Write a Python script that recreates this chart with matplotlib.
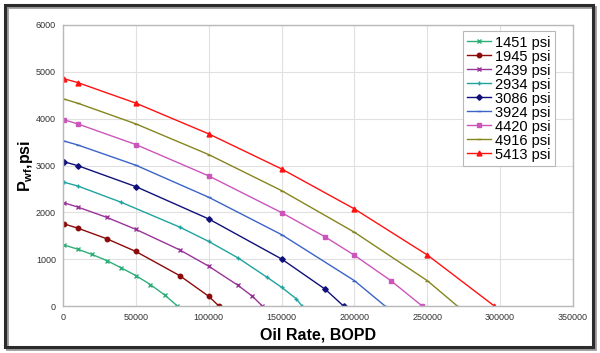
import numpy as np
import matplotlib.pyplot as plt
from matplotlib.patches import Rectangle

plt.rcParams['font.family'] = ['Liberation Sans', 'DejaVu Sans']

# IPR curves, one per reservoir pressure
labels = ["1451 psi", "1945 psi", "2439 psi", "2934 psi", "3086 psi",
          "3924 psi", "4420 psi", "4916 psi", "5413 psi"]

q_1451 = [1000, 10000, 20000, 30000, 40000, 50000, 60000, 70000, 78500]
p_1451 = [1300, 1214, 1100, 971, 814, 650, 457, 229, 0]

q_1945 = [1000, 10000, 30000, 50000, 80000, 100000, 107000]
p_1945 = [1750, 1664, 1436, 1164, 650, 207, 0]

q_2439 = [1000, 10000, 30000, 50000, 80000, 100000, 120000, 130000, 136800]
p_2439 = [2200, 2114, 1893, 1636, 1200, 850, 443, 207, 0]

q_2934 = [1000, 10000, 40000, 80000, 100000, 120000, 140000, 150000, 160000, 164000]
p_2934 = [2640, 2564, 2214, 1686, 1379, 1029, 614, 400, 157, 0]

q_3086 = [1000, 10000, 50000, 100000, 150000, 180000, 192500]
p_3086 = [3077, 2998, 2549, 1859, 1004, 357, 0]

q_3924 = [1000, 10000, 50000, 100000, 150000, 200000, 221000]
p_3924 = [3519, 3440, 3006, 2322, 1524, 541, 0]

q_4420 = [1000, 10000, 50000, 100000, 150000, 180000, 200000, 225000, 246500]
p_4420 = [3974, 3889, 3447, 2778, 1994, 1474, 1083, 541, 0]

q_4916 = [1000, 10000, 50000, 100000, 150000, 200000, 250000, 270600]
p_4916 = [4416, 4331, 3889, 3233, 2464, 1575, 541, 0]

q_5413 = [1000, 10000, 50000, 100000, 150000, 200000, 250000, 296000]
p_5413 = [4850, 4772, 4331, 3675, 2927, 2073, 1090, 0]

rates = [q_1451, q_1945, q_2439, q_2934, q_3086, q_3924, q_4420, q_4916, q_5413]
pwfs = [p_1451, p_1945, p_2439, p_2934, p_3086, p_3924, p_4420, p_4916, p_5413]

colors = ["#2fae7a", "#8b0a0a", "#993399", "#1fa3a0", "#10107a",
          "#3b64c8", "#cc55bb", "#85851f", "#ff1111"]
markers = ["x", "o", "x", "+", "D", "_", "s", "_", "^"]
msizes = [3, 3.2, 3, 3, 2.8, 3, 3.2, 3, 3.5]

fig = plt.figure(figsize=(6, 3.53), dpi=100)
ax = fig.add_axes([63 / 600, 1 - 306 / 353, 510 / 600, 281 / 353])

for q, p, c, m, ms, lab in zip(rates, pwfs, colors, markers, msizes, labels):
    ax.plot(q, p, color=c, marker=m, markersize=ms, linewidth=1,
            markeredgewidth=1, label=lab)

ax.set_xlim(0, 350000)
ax.set_ylim(0, 6000)
ax.set_xticks(np.arange(0, 350001, 50000))
ax.set_yticks(np.arange(0, 6001, 1000))
ax.tick_params(labelsize=6.5, length=0, pad=5, colors="#333333")
ax.grid(color="#e0e0e0", linewidth=0.8)
for s in ax.spines.values():
    s.set_color("#b8b8b8")
    s.set_linewidth(1)

ax.set_xlabel("Oil Rate, BOPD", fontsize=11.5, fontweight="bold", labelpad=4)
ax.set_ylabel("P$_{\\mathregular{wf}}$,psi", fontsize=11.5, fontweight="bold", labelpad=1)

leg = ax.legend(loc="upper right", bbox_to_anchor=(0.965, 0.978), borderaxespad=0,
                fontsize=10.5, labelspacing=0, handlelength=1.6, handletextpad=0.3,
                borderpad=0.3, fancybox=False, framealpha=1)
leg.get_frame().set_edgecolor("#b8b8b8")
leg.get_frame().set_linewidth(0.8)

# outer frame with a soft shadow
fig.patches.append(Rectangle((7 / 600, 4 / 353), 588 / 600, 342 / 353,
                             transform=fig.transFigure, fill=False,
                             edgecolor="#9a9a9a", linewidth=2))
fig.patches.append(Rectangle((5 / 600, 6 / 353), 588 / 600, 342 / 353,
                             transform=fig.transFigure, fill=False,
                             edgecolor="#2b2b2b", linewidth=2.2))

fig.savefig("out.png", dpi=100)
